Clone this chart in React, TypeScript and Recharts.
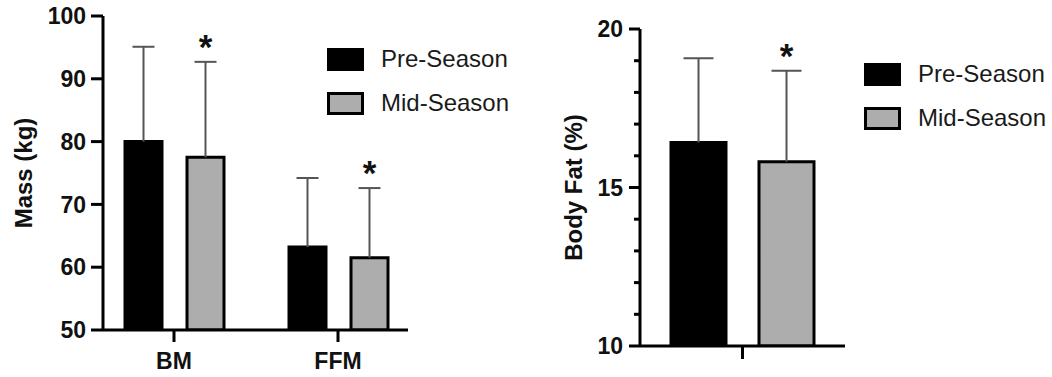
import React from "react";
import { BarChart, Bar, XAxis, YAxis, LabelList, Legend } from "recharts";

// values (mean + SD, only the upper whisker is drawn)
const massCategories = ["BM", "FFM"];
const massPre = [80.0, 63.2];
const massPreSd = [15.1, 11.0];
const massMid = [77.5, 61.5];
const massMidSd = [15.2, 11.1];
const massStars = ["*", "*"];
const massTicks = [50, 60, 70, 80, 90, 100];

const fatCategories = [""];
const fatPre = [16.42];
const fatPreSd = [2.66];
const fatMid = [15.81];
const fatMidSd = [2.87];
const fatStars = ["*"];
const fatTicks = [10, 11, 12, 13, 14, 15, 16, 17, 18, 19, 20];
const fatLabelled = [10, 15, 20];

const seriesNames = ["Pre-Season", "Mid-Season"];
const seriesFills = ["#000000", "#adadad"];

const FONT = '"Liberation Sans", Arial, Helvetica, sans-serif';
const INK = "#111";

const massRows = massCategories.map((name, i) => ({
  name,
  pre: massPre[i],
  mid: massMid[i],
  preSd: massPreSd[i],
  midSd: massMidSd[i],
  star: massStars[i],
}));

const fatRows = fatCategories.map((name, i) => ({
  name,
  pre: fatPre[i],
  mid: fatMid[i],
  preSd: fatPreSd[i],
  midSd: fatMidSd[i],
  star: fatStars[i],
}));

// SD stacked on the mean, drawn as a one-sided whisker
const whisker = (half: number) => (props: any) => {
  const { x, y, width, height } = props;
  const cx = x + width / 2;
  return (
    <g stroke="#555" strokeWidth={2}>
      <line x1={cx} x2={cx} y1={y + height} y2={y} />
      <line x1={cx - half} x2={cx + half} y1={y} y2={y} />
    </g>
  );
};

const starLabel = (props: any) => {
  const vb = props.viewBox ?? props;
  const { x, y, width } = vb;
  if (!props.value) return null;
  return (
    <text
      x={x + width / 2}
      y={y - 3}
      textAnchor="middle"
      fontFamily={FONT}
      fontWeight="bold"
      fontSize={35}
      fill={INK}
    >
      {props.value}
    </text>
  );
};

const SeasonLegend = () => (
  <div style={{ fontFamily: FONT, fontSize: 24, color: "#1a1a1a" }}>
    {seriesNames.map((name, i) => (
      <div
        key={name}
        style={{ display: "flex", alignItems: "center", height: 44 }}
      >
        <div
          style={{
            width: 37,
            height: 23,
            boxSizing: "border-box",
            background: seriesFills[i],
            border: "3px solid #000",
          }}
        />
        <span style={{ marginLeft: 17, whiteSpace: "nowrap" }}>{name}</span>
      </div>
    ))}
  </div>
);

// body fat axis: long ticks with labels every 5, short ones in between
const FatTick = (props: any) => {
  const { x, y, payload } = props;
  const major = fatLabelled.includes(payload.value);
  const len = major ? 11 : 6;
  return (
    <g>
      <line x1={x - len} x2={x} y1={y} y2={y} stroke="#000" strokeWidth={3} />
      {major && (
        <text
          x={x - len - 6}
          y={y}
          dy="0.355em"
          textAnchor="end"
          fontFamily={FONT}
          fontWeight="bold"
          fontSize={23}
          fill={INK}
        >
          {payload.value}
        </text>
      )}
    </g>
  );
};

const tickStyle = {
  fontFamily: FONT,
  fontWeight: "bold" as const,
  fontSize: 23,
  fill: INK,
};
const axisStroke = { stroke: "#000", strokeWidth: 3 };

export default function App() {
  return (
    <div
      style={{
        position: "absolute",
        left: 0,
        top: 0,
        width: 1052,
        height: 377,
        display: "flex",
        background: "#fff",
      }}
    >
      <BarChart
        width={540}
        height={377}
        data={massRows}
        margin={{ top: 16, right: 132, bottom: 0, left: 0 }}
        barSize={37}
        barGap={25}
      >
        <XAxis
          dataKey="name"
          height={47}
          padding={{ left: -11, right: -12 }}
          axisLine={axisStroke}
          tickLine={axisStroke}
          tickSize={12}
          tickMargin={11}
          tick={tickStyle}
        />
        <YAxis
          width={103}
          domain={[50, 100]}
          allowDataOverflow
          ticks={massTicks}
          interval={0}
          axisLine={axisStroke}
          tickLine={axisStroke}
          tickSize={12}
          tickMargin={5}
          tick={tickStyle}
          label={{
            value: "Mass (kg)",
            angle: -90,
            position: "center",
            dx: -28,
            style: { ...tickStyle, fontSize: 24 },
          }}
        />
        <Legend
          content={<SeasonLegend />}
          layout="vertical"
          align="center"
          verticalAlign="middle"
          wrapperStyle={{ left: 327, top: 37, width: "auto" }}
        />
        <Bar
          dataKey="pre"
          stackId="pre"
          name={seriesNames[0]}
          fill={seriesFills[0]}
          stroke="#000"
          strokeWidth={3}
          isAnimationActive={false}
        />
        <Bar
          dataKey="preSd"
          stackId="pre"
          shape={whisker(11)}
          isAnimationActive={false}
        />
        <Bar
          dataKey="mid"
          stackId="mid"
          name={seriesNames[1]}
          fill={seriesFills[1]}
          stroke="#000"
          strokeWidth={3}
          isAnimationActive={false}
        />
        <Bar
          dataKey="midSd"
          stackId="mid"
          shape={whisker(11)}
          isAnimationActive={false}
        >
          <LabelList dataKey="star" content={starLabel} />
        </Bar>
      </BarChart>

      <BarChart
        width={512}
        height={377}
        data={fatRows}
        margin={{ top: 29, right: 207, bottom: 0, left: 0 }}
        barSize={55}
        barGap={33}
      >
        <XAxis
          dataKey="name"
          height={31}
          axisLine={axisStroke}
          tickLine={axisStroke}
          tickSize={13}
          tick={tickStyle}
        />
        <YAxis
          width={100}
          domain={[10, 20]}
          allowDataOverflow
          ticks={fatTicks}
          interval={0}
          axisLine={axisStroke}
          tickLine={false}
          tickSize={0}
          tickMargin={0}
          tick={<FatTick />}
          label={{
            value: "Body Fat (%)",
            angle: -90,
            position: "center",
            dx: -17,
            style: { ...tickStyle, fontSize: 24 },
          }}
        />
        <Legend
          content={<SeasonLegend />}
          layout="vertical"
          align="center"
          verticalAlign="middle"
          wrapperStyle={{ left: 324, top: 52, width: "auto" }}
        />
        <Bar
          dataKey="pre"
          stackId="pre"
          name={seriesNames[0]}
          fill={seriesFills[0]}
          stroke="#000"
          strokeWidth={3}
          isAnimationActive={false}
        />
        <Bar
          dataKey="preSd"
          stackId="pre"
          shape={whisker(15)}
          isAnimationActive={false}
        />
        <Bar
          dataKey="mid"
          stackId="mid"
          name={seriesNames[1]}
          fill={seriesFills[1]}
          stroke="#000"
          strokeWidth={3}
          isAnimationActive={false}
        />
        <Bar
          dataKey="midSd"
          stackId="mid"
          shape={whisker(15)}
          isAnimationActive={false}
        >
          <LabelList dataKey="star" content={starLabel} />
        </Bar>
      </BarChart>
    </div>
  );
}
